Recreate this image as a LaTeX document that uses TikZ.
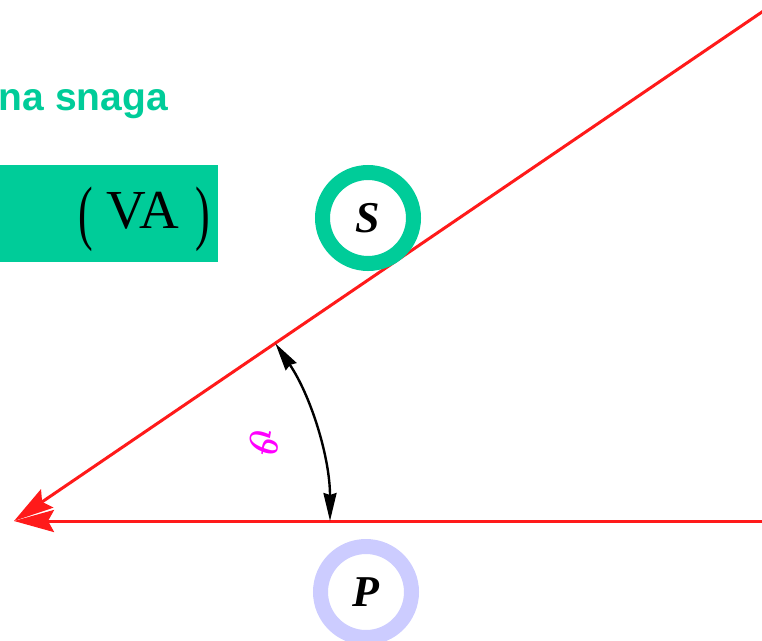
\documentclass[tikz,border=0pt]{standalone}
\usepackage{fontspec}
\setmainfont{Liberation Serif}
\newfontfamily\headfont{Liberation Sans}
\newfontfamily\greekfont{DejaVu Serif}
\usetikzlibrary{arrows.meta}
\definecolor{tgreen}{HTML}{00CC99}
\definecolor{tlav}{HTML}{CCCCFF}
\definecolor{tred}{HTML}{FF1A1A}
\definecolor{tmag}{HTML}{FF00FF}
\tikzset{
  vecline/.style={tred, line width=3pt, {Stealth[length=40pt,width=22pt,inset=6pt]}-},
  anglearc/.style={black, line width=2.4pt, {Stealth[length=28pt,width=13pt,inset=2pt]}-{Stealth[length=28pt,width=13pt,inset=2pt]}},
  ringnode/.style={circle, draw=#1, line width=15pt, fill=white, minimum size=91pt, inner sep=0pt},
  letter/.style={font=\fontsize{44}{48}\selectfont\bfseries\itshape}
}
\begin{document}
\begin{tikzpicture}[x=1pt,y=-1pt]
\useasboundingbox (0,0) rectangle (762,640);
% heading
\node[anchor=base east, inner sep=0pt, text=tgreen, font=\headfont\bfseries\fontsize{39}{42}\selectfont] (title) at (168,110) {na snaga};
% green box
\fill[tgreen] (-5,165) rectangle (218,262);
\node[inner sep=0pt, anchor=base, font=\fontsize{55}{60}\selectfont] (lp) at (86,236) {\scalebox{0.8}[1.3]{(}};
\node[inner sep=0pt, anchor=base, font=\fontsize{55}{60}\selectfont] (va) at (143,228) {VA};
\node[inner sep=0pt, anchor=base, font=\fontsize{55}{60}\selectfont] (rp) at (203,236) {\scalebox{0.8}[1.3]{)}};
% vectors
\coordinate (O) at (14,521);
\coordinate (Pend) at (770,521);
\coordinate (Send) at (770,6.5);
\draw[vecline] (O) -- (Pend);
\draw[vecline] (O) -- (Send);
% angle arc
\draw[anglearc] (O) ++(-34.2:316) arc[start angle=-34.2, end angle=0, radius=316];
\node[text=tmag, rotate=-100, font=\greekfont\itshape\fontsize{38}{40}\selectfont] (phi) at (264,442) {ϑ};
% circles
\node[ringnode=tgreen, letter] (S) at (368,218) {S};
\node[ringnode=tlav, letter] (P) at (366,592) {P};
\end{tikzpicture}
\end{document}
